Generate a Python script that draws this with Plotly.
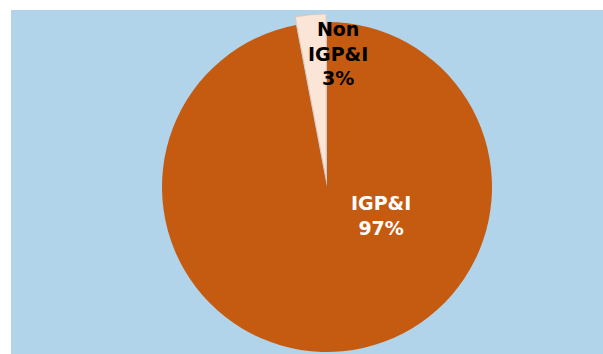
import math
import plotly.graph_objects as go

labels = ["IGP&I", "Non IGP&I"]
display_labels = ["IGP&I", "Non<br>IGP&I"]
values = [97, 3]
colors = ["#C55A11", "#FBE5D6"]
text_colors = ["#FFFFFF", "#000000"]
explode_px = 9

W, H = 603, 354
cx, cy, r = 327, 167, 165

total = sum(values)
mid_frac = (values[0] + values[1] / 2) / total
ang = 2 * math.pi * mid_frac  # clockwise from 12 o'clock
dx = explode_px * math.sin(ang)
dy = explode_px * math.cos(ang) - 1


def dom(x0, y0):
    return dict(x=[(x0 - r) / W, (x0 + r) / W], y=[(y0 - r) / H, (y0 + r) / H])


fig = go.Figure()
# main pie (exploded slice left empty)
fig.add_trace(go.Pie(
    labels=labels, values=values, sort=False, direction="clockwise", rotation=0,
    marker=dict(colors=[colors[0], "rgba(0,0,0,0)"], line=dict(width=0)),
    textinfo="none", hoverinfo="skip", showlegend=False,
    domain=dom(cx, cy),
))
# exploded slice
fig.add_trace(go.Pie(
    labels=labels, values=values, sort=False, direction="clockwise", rotation=0,
    marker=dict(colors=["rgba(0,0,0,0)", colors[1]],
                line=dict(width=[0, 0.8], color="#D9C6B8")),
    textinfo="none", hoverinfo="label+percent", showlegend=False,
    domain=dom(cx + dx, cy + dy),
))

label_pos = [(381.5 / W, 1 - 215.5 / H), (338 / W, 1 - 53.5 / H)]
for lab, v, tc, (ax, ay) in zip(display_labels, values, text_colors, label_pos):
    fig.add_annotation(
        x=ax, y=ay, xref="paper", yref="paper",
        xanchor="center", yanchor="middle",
        text=f"{lab}<br>{round(100 * v / total)}%",
        showarrow=False, align="center",
        font=dict(family="DejaVu Sans", size=19, color=tc, weight="bold"),
    )

fig.update_layout(
    width=W, height=H,
    margin=dict(l=0, r=0, t=0, b=0),
    paper_bgcolor="#FFFFFF",
    shapes=[dict(type="rect", xref="paper", yref="paper",
                 x0=11 / W, x1=1, y0=0, y1=1 - 10 / H,
                 fillcolor="#B2D4EA", line=dict(width=0), layer="below")],
)

fig.write_html("out.html", config={"displayModeBar": False},
               post_script="document.body.style.margin='0';document.body.style.overflow='hidden';")
